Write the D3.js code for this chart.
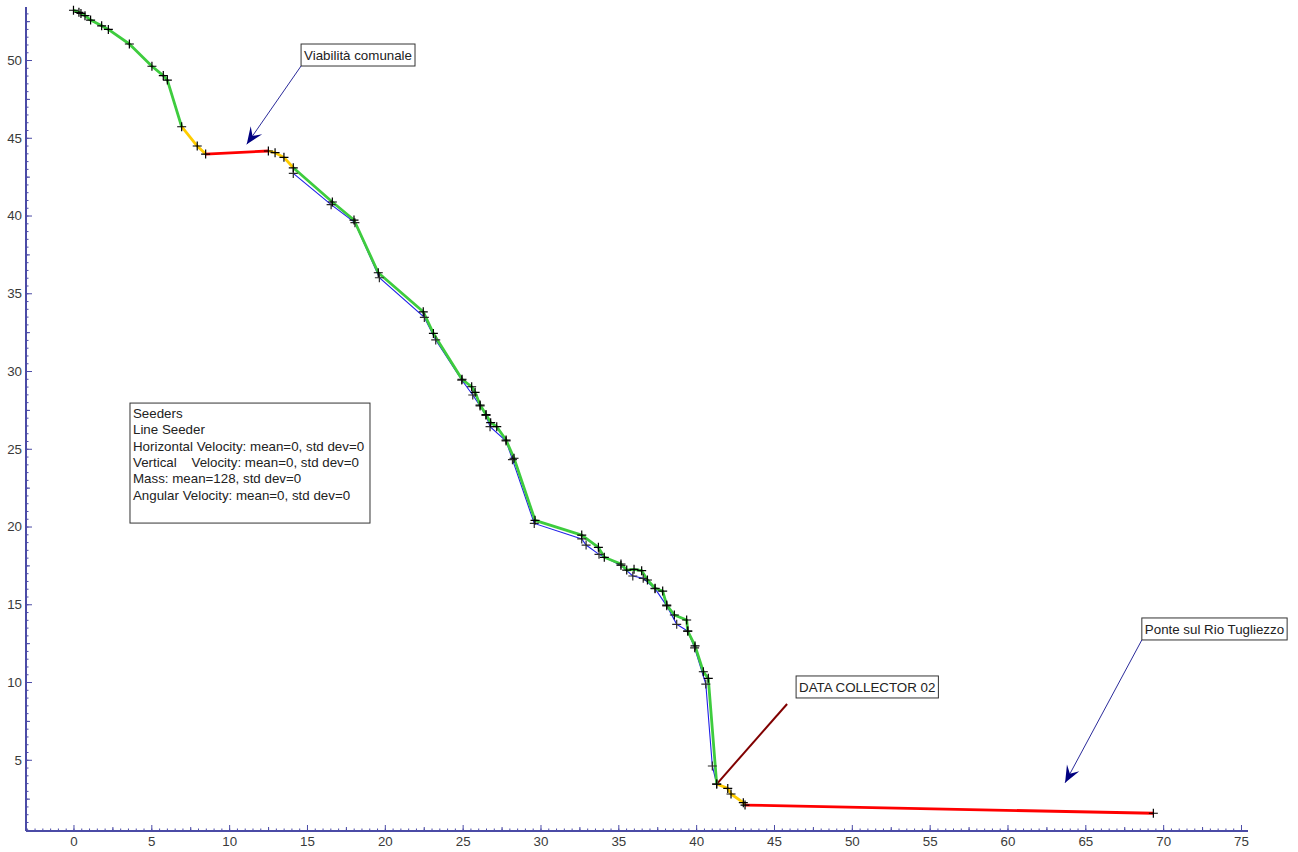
<!DOCTYPE html>
<html><head><meta charset="utf-8">
<script src="https://cdn.jsdelivr.net/npm/d3@7"></script>
<style>
body{margin:0;background:#fff}
svg{display:block}
text{font-family:Arial,"Liberation Sans",sans-serif}
</style>
</head><body>
<svg id="chart" width="1298" height="852"></svg>
<script>
// ---- data ----
const trackX = [0,0.35,0.48,0.74,1.1,1.81,2.24,3.59,5.04,5.77,6.03,6.95,7.95,8.49,12.52,12.95,13.52,14.12,
  16.63,18.02,19.58,22.47,23.12,24.96,25.58,25.8,26.12,26.5,26.8,27.19,27.79,28.3,29.65,32.65,33.72,34.1,
  35.17,35.54,36.01,36.5,36.87,37.36,37.85,38.11,38.6,39.39,39.46,39.93,40.46,40.78,41.32,42.03,42.24,43.03,43.14,69.37];
const trackY = [53.2,53.07,53.0,52.85,52.57,52.2,51.97,51.03,49.6,49.0,48.71,45.71,44.47,43.95,44.15,44.04,43.74,43.07,
  40.87,39.71,36.32,33.81,32.42,29.47,28.99,28.63,27.81,27.2,26.68,26.42,25.56,24.39,20.4,19.45,18.66,18.02,
  17.59,17.2,17.25,17.16,16.56,16.03,15.85,14.95,14.31,13.99,13.28,12.32,10.66,10.24,3.44,3.16,2.8,2.24,2.09,1.56];
// consecutive segment runs: [class, number of segments]
const segmentRuns = [["grade",11],["transition",2],["flat",1],["transition",3],["grade",33],["transition",4],["flat",1]];

const seederX = [14.12,16.55,18.08,19.65,22.54,23.27,24.94,25.65,26.12,26.5,26.76,27.79,28.2,29.6,32.65,32.93,33.76,
  35.17,35.93,36.6,37.36,38.11,38.75,39.46,39.9,40.62,41.04,41.32];
const seederY = [42.71,40.7,39.54,36.0,33.45,32.0,29.42,28.46,27.75,27.15,26.42,25.5,24.3,20.2,19.2,18.81,18.21,
  17.5,16.82,16.67,16.0,14.9,13.71,13.28,12.2,9.87,4.6,3.44];

const xTickLabels = [0,5,10,15,20,25,30,35,40,45,50,55,60,65,70,75];
const yTickLabels = [5,10,15,20,25,30,35,40,45,50];

const legendLines = ["Seeders","Line Seeder","Horizontal Velocity: mean=0, std dev=0",
  "Vertical    Velocity: mean=0, std dev=0","Mass: mean=128, std dev=0","Angular Velocity: mean=0, std dev=0"];
const legendAnchor = [3.63, 27.94];

const calloutLabels = ["Viabilità comunale","DATA COLLECTOR 02","Ponte sul Rio Tugliezzo"];
const calloutBoxX = [14.62, 46.42, 68.63];
const calloutBoxY = [51.03, 10.39, 14.12];
const calloutTipX = [11.13, 41.32, 63.7];
const calloutTipY = [44.58, 3.44, 3.52];
const calloutKind = ["arrow","pin","arrow"];

// ---- scales ----
const svg = d3.select("#chart");
const x = d3.scaleLinear().domain([-3.05, 75.45]).range([26, 1248]);
const y = d3.scaleLinear().domain([0.42, 53.41]).range([831, 7]);

const axisColor = "#4b4ba6";
const labelColor = "#3a3a3a";
const fontSize = "13.33px";

// ---- axes ----
function styleAxis(g){
  g.selectAll(".tick line").attr("stroke", axisColor);
  g.selectAll("text").attr("fill", labelColor).style("font-size", fontSize).style("font-family","Arial, 'Liberation Sans', sans-serif");
}
const xMinor = d3.range(-3, 75.5, 0.5), yMinor = d3.range(0.5, 53.5, 0.5);
const xMid = d3.range(2.5, 75, 5), yMid = d3.range(2.5, 53, 5);

const gx = svg.append("g").attr("transform", `translate(0,${y.range()[0]})`);
gx.append("g").call(d3.axisBottom(x).tickValues(xMinor).tickSize(-2.5).tickFormat("")).call(g=>g.select(".domain").remove()).call(styleAxis);
gx.append("g").call(d3.axisBottom(x).tickValues(xMid).tickSize(-4).tickFormat("")).call(g=>g.select(".domain").remove()).call(styleAxis);
gx.append("g").call(d3.axisBottom(x).tickValues(xTickLabels).tickSize(-6).tickPadding(6).tickFormat(d3.format("d"))).call(g=>g.select(".domain").remove()).call(styleAxis);
gx.append("line").attr("x1", x.range()[0]).attr("x2", x.range()[1]).attr("stroke", axisColor).attr("stroke-width", 2);

const gy = svg.append("g").attr("transform", `translate(${x.range()[0]},0)`);
gy.append("g").call(d3.axisLeft(y).tickValues(yMinor).tickSize(-2.5).tickFormat("")).call(g=>g.select(".domain").remove()).call(styleAxis);
gy.append("g").call(d3.axisLeft(y).tickValues(yMid).tickSize(-4).tickFormat("")).call(g=>g.select(".domain").remove()).call(styleAxis);
gy.append("g").call(d3.axisLeft(y).tickValues(yTickLabels).tickSize(-6).tickPadding(4).tickFormat(d3.format("d"))).call(g=>g.select(".domain").remove()).call(styleAxis);
gy.append("line").attr("y1", y.range()[0]).attr("y2", y.range()[1]).attr("stroke", axisColor).attr("stroke-width", 2);

// ---- lines ----
const line = d3.line().x(d=>x(d[0])).y(d=>y(d[1]));
const seederPts = seederX.map((v,i)=>[v, seederY[i]]);
const trackPts = trackX.map((v,i)=>[v, trackY[i]]);

svg.append("path").attr("d", line(seederPts)).attr("fill","none").attr("stroke","#1f1fe8").attr("stroke-width",1.1);

const segColor = d3.scaleOrdinal().domain(["grade","transition","flat"]).range(["#3ecc3e","#ffcc00","#ff0000"]);
let start = 0;
segmentRuns.forEach(([cls, n]) => {
  svg.append("path").attr("d", line(trackPts.slice(start, start + n + 1)))
    .attr("fill","none").attr("stroke", segColor(cls)).attr("stroke-width",2.8)
    .attr("stroke-linejoin","round").attr("stroke-linecap","butt");
  start += n;
});

// markers
function plus(g, pts, col){
  g.selectAll(null).data(pts).join("path")
    .attr("d", d=>{const px=x(d[0]), py=y(d[1]); return `M${px-4.5},${py}H${px+4.5}M${px},${py-4.5}V${py+4.5}`;})
    .attr("stroke", col).attr("stroke-width",1.2).attr("fill","none");
}
plus(svg.append("g"), seederPts, "#2a2a2a");
plus(svg.append("g"), trackPts, "#000");

// ---- callouts ----
calloutLabels.forEach((lab, i) => {
  const bx = x(calloutBoxX[i]), by = y(calloutBoxY[i]);
  const g = svg.append("g");
  const t = g.append("text").attr("x", bx + 3).attr("y", by + 16).text(lab)
    .style("font-size", fontSize).attr("fill","#222");
  const w = t.node().getComputedTextLength() + 6;
  const h = 22;
  g.insert("rect","text").attr("x", bx).attr("y", by).attr("width", w).attr("height", h)
    .attr("fill","#fff").attr("stroke","#333").attr("stroke-width",1);
  const tx = x(calloutTipX[i]), ty = y(calloutTipY[i]);
  if (calloutKind[i] === "pin") {
    const sx = bx - 9, sy = by + h + 6;
    svg.insert("line", "g").attr("x1", sx).attr("y1", sy).attr("x2", tx).attr("y2", ty)
      .attr("stroke","#800000").attr("stroke-width",2);
  } else {
    const sx = bx, sy = by + h;
    svg.append("line").attr("x1", sx).attr("y1", sy).attr("x2", tx).attr("y2", ty)
      .attr("stroke","#2b2b9a").attr("stroke-width",1);
    const dx = tx - sx, dy = ty - sy, L = Math.hypot(dx, dy);
    const ux = dx/L, uy = dy/L, nx = -uy, ny = ux;
    const len = 17, wid = 7;
    const p = [[tx,ty],[tx-ux*len+nx*wid, ty-uy*len+ny*wid],[tx-ux*len*0.6, ty-uy*len*0.6],[tx-ux*len-nx*wid, ty-uy*len-ny*wid]];
    svg.append("path").attr("d", "M"+p.map(q=>q.join(",")).join("L")+"Z").attr("fill","#000080");
  }
});

// ---- legend box ----
const lx = x(legendAnchor[0]), ly = y(legendAnchor[1]);
const lg = svg.append("g");
lg.append("rect").attr("x", lx).attr("y", ly).attr("width", 240).attr("height", 120)
  .attr("fill","#fff").attr("stroke","#333").attr("stroke-width",1);
lg.selectAll("text").data(legendLines).join("text")
  .attr("x", lx + 3).attr("y", (d,i)=> ly + 15 + i*16.3)
  .style("font-size", fontSize).style("white-space","pre").attr("fill","#222")
  .text(d=>d);
</script>
</body></html>
